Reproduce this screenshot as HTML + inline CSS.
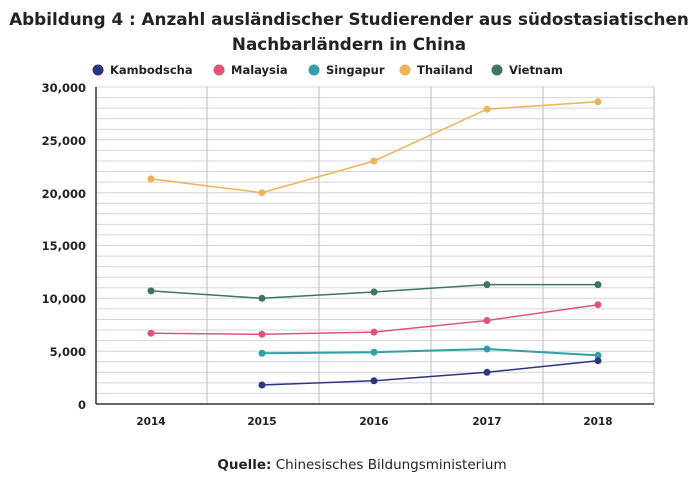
<!DOCTYPE html>
<html><head><meta charset="utf-8"><style>
body{margin:0;background:#fff;width:697px;height:484px;overflow:hidden}
svg{display:block;font-family:"DejaVu Sans","Liberation Sans",sans-serif}
</style></head><body>
<svg width="697" height="484" viewBox="0 0 697 484">
<text x="349" y="25" text-anchor="middle" font-size="16.8" font-weight="bold" fill="#222">Abbildung 4 : Anzahl ausländischer Studierender aus südostasiatischen</text>
<text x="349" y="50" text-anchor="middle" font-size="16.8" font-weight="bold" fill="#222">Nachbarländern in China</text>
<g font-size="11.5" font-weight="bold" fill="#222">
<circle cx="98" cy="70" r="5.5" fill="#2b3582"/><text x="110" y="74">Kambodscha</text>
<circle cx="219" cy="70" r="5.5" fill="#e05577"/><text x="231" y="74">Malaysia</text>
<circle cx="314" cy="70" r="5.5" fill="#2fa0a8"/><text x="326" y="74">Singapur</text>
<circle cx="405" cy="70" r="5.5" fill="#f2b155"/><text x="417" y="74">Thailand</text>
<circle cx="497" cy="70" r="5.5" fill="#3e7366"/><text x="509" y="74">Vietnam</text>
</g>
<g stroke="#d4d4e0" stroke-width="1">
<line x1="96" x2="654" y1="393.4" y2="393.4"/><line x1="96" x2="654" y1="382.9" y2="382.9"/><line x1="96" x2="654" y1="372.3" y2="372.3"/><line x1="96" x2="654" y1="361.7" y2="361.7"/><line x1="96" x2="654" y1="351.2" y2="351.2"/>
<line x1="96" x2="654" y1="340.6" y2="340.6"/><line x1="96" x2="654" y1="330.0" y2="330.0"/><line x1="96" x2="654" y1="319.5" y2="319.5"/><line x1="96" x2="654" y1="308.9" y2="308.9"/><line x1="96" x2="654" y1="298.3" y2="298.3"/>
<line x1="96" x2="654" y1="287.8" y2="287.8"/><line x1="96" x2="654" y1="277.2" y2="277.2"/><line x1="96" x2="654" y1="266.6" y2="266.6"/><line x1="96" x2="654" y1="256.1" y2="256.1"/><line x1="96" x2="654" y1="245.5" y2="245.5"/>
<line x1="96" x2="654" y1="234.9" y2="234.9"/><line x1="96" x2="654" y1="224.4" y2="224.4"/><line x1="96" x2="654" y1="213.8" y2="213.8"/><line x1="96" x2="654" y1="203.2" y2="203.2"/><line x1="96" x2="654" y1="192.7" y2="192.7"/>
<line x1="96" x2="654" y1="182.1" y2="182.1"/><line x1="96" x2="654" y1="171.5" y2="171.5"/><line x1="96" x2="654" y1="161.0" y2="161.0"/><line x1="96" x2="654" y1="150.4" y2="150.4"/><line x1="96" x2="654" y1="139.8" y2="139.8"/>
<line x1="96" x2="654" y1="129.3" y2="129.3"/><line x1="96" x2="654" y1="118.7" y2="118.7"/><line x1="96" x2="654" y1="108.1" y2="108.1"/><line x1="96" x2="654" y1="97.6" y2="97.6"/><line x1="96" x2="654" y1="87" y2="87"/>
</g>
<g stroke="#b8b8d0"><line x1="207" x2="207" y1="87" y2="404"/><line x1="319" x2="319" y1="87" y2="404"/><line x1="431" x2="431" y1="87" y2="404"/><line x1="543" x2="543" y1="87" y2="404"/><line x1="654" x2="654" y1="87" y2="404"/></g>
<g stroke="#2b3155" stroke-width="1.5"><line x1="96" x2="96" y1="87" y2="404"/><line x1="96" x2="654" y1="404" y2="404"/></g>
<g font-size="11.5" font-weight="bold" fill="#222" text-anchor="end">
<text x="86" y="92">30,000</text><text x="86" y="145">25,000</text><text x="86" y="198">20,000</text><text x="86" y="250">15,000</text><text x="86" y="303">10,000</text><text x="86" y="356">5,000</text><text x="86" y="409">0</text>
</g>
<g font-size="10.5" font-weight="bold" fill="#222" text-anchor="middle">
<text x="151" y="425">2014</text><text x="262" y="425">2015</text><text x="374" y="425">2016</text><text x="487" y="425">2017</text><text x="598" y="425">2018</text>
</g>
<g fill="none" stroke-width="1.5">
<polyline stroke="#f2b155" points="151,178.9 262,192.7 374,161 487,109.2 598,101.8"/>
<polyline stroke="#3e7366" points="151,290.9 262,298.3 374,292 487,284.6 598,284.6"/>
<polyline stroke="#e05577" points="151,333.2 262,334.3 374,332.1 487,320.5 598,304.7"/>
<polyline stroke="#2fa0a8" stroke-width="2" points="262,353.3 374,352.2 487,349 598,355.4"/>
<polyline stroke="#2b3582" points="262,385 374,380.8 487,372.3 598,360.7"/>
</g>
<g fill="#f2b155"><circle cx="151" cy="178.9" r="3.5"/><circle cx="262" cy="192.7" r="3.5"/><circle cx="374" cy="161" r="3.5"/><circle cx="487" cy="109.2" r="3.5"/><circle cx="598" cy="101.8" r="3.5"/></g>
<g fill="#3e7366"><circle cx="151" cy="290.9" r="3.5"/><circle cx="262" cy="298.3" r="3.5"/><circle cx="374" cy="292" r="3.5"/><circle cx="487" cy="284.6" r="3.5"/><circle cx="598" cy="284.6" r="3.5"/></g>
<g fill="#e05577"><circle cx="151" cy="333.2" r="3.5"/><circle cx="262" cy="334.3" r="3.5"/><circle cx="374" cy="332.1" r="3.5"/><circle cx="487" cy="320.5" r="3.5"/><circle cx="598" cy="304.7" r="3.5"/></g>
<g fill="#2fa0a8"><circle cx="262" cy="353.3" r="3.5"/><circle cx="374" cy="352.2" r="3.5"/><circle cx="487" cy="349" r="3.5"/><circle cx="598" cy="355.4" r="3.5"/></g>
<g fill="#2b3582"><circle cx="262" cy="385" r="3.5"/><circle cx="374" cy="380.8" r="3.5"/><circle cx="487" cy="372.3" r="3.5"/><circle cx="598" cy="360.7" r="3.5"/></g>
<text x="362" y="469" text-anchor="middle" font-size="13.5" fill="#222"><tspan font-weight="bold">Quelle:</tspan> Chinesisches Bildungsministerium</text>
</svg>
</body></html>
